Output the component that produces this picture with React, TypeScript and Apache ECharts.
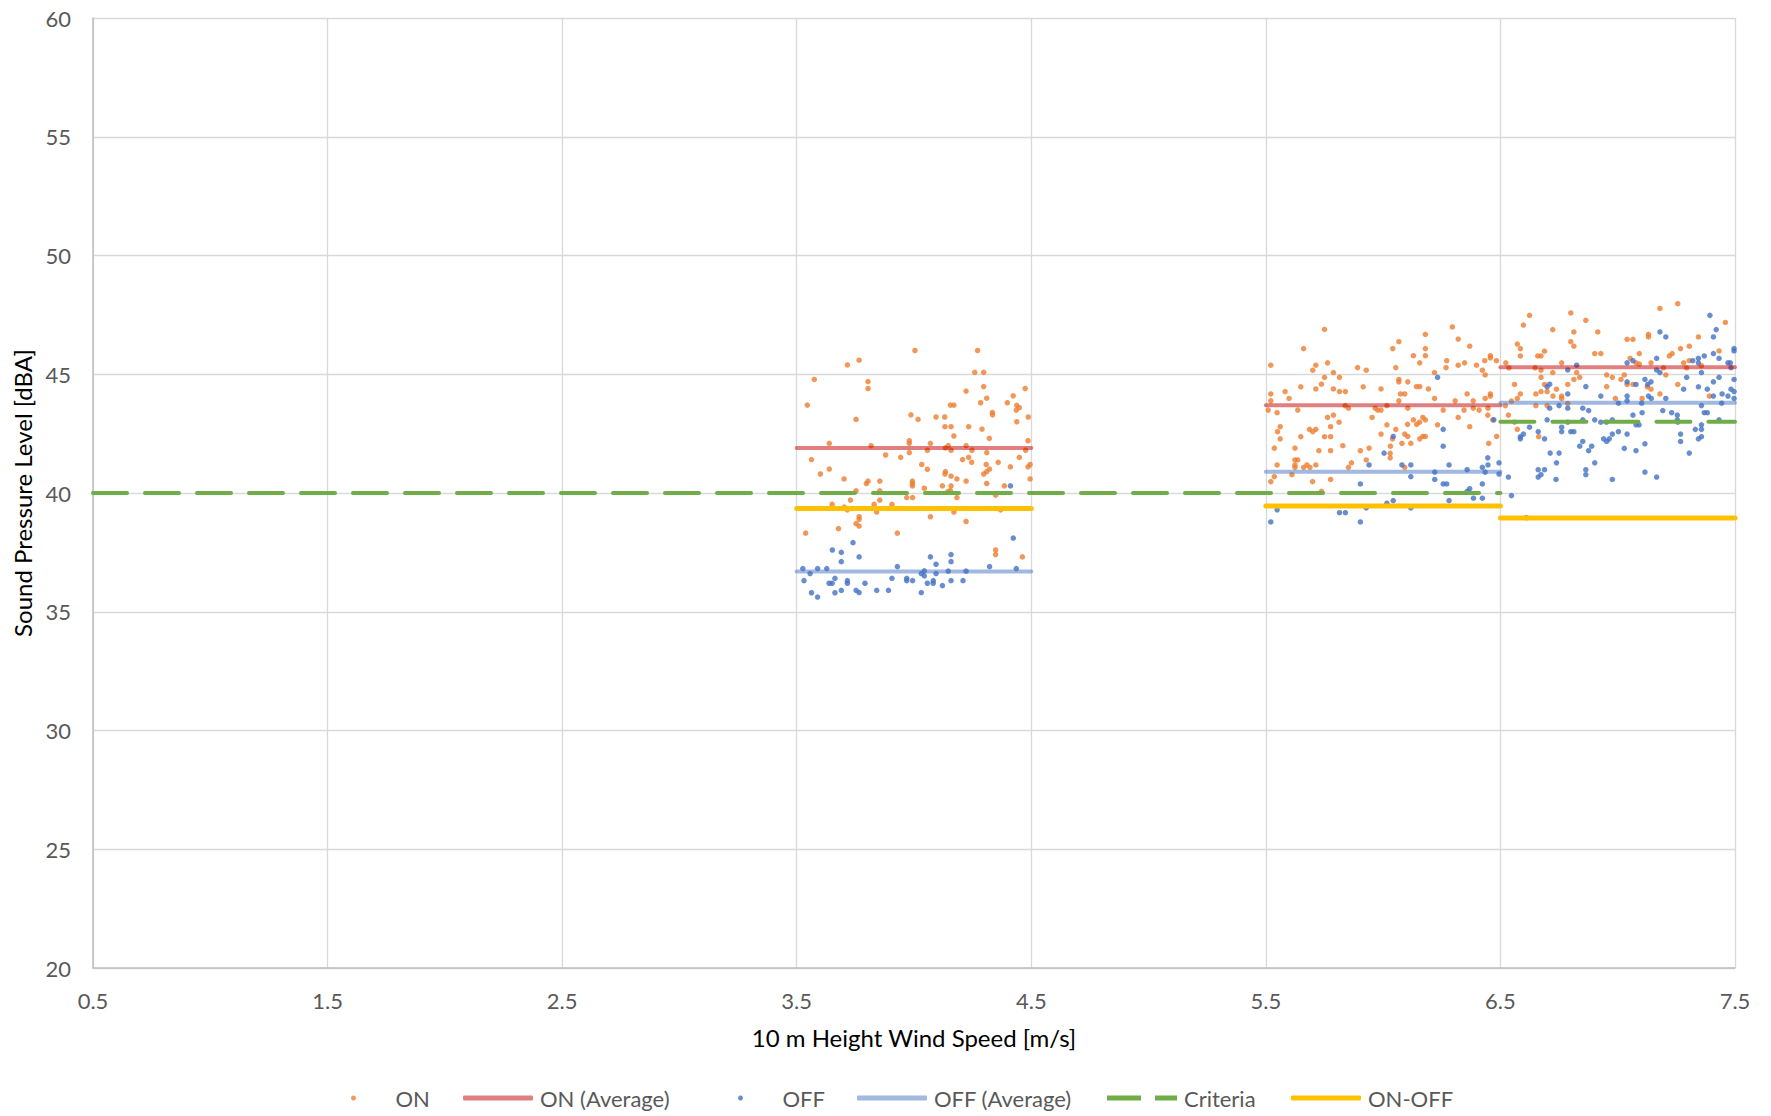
import React, { useEffect, useRef } from "react";
import * as echarts from "echarts";

// ---------- DATA ----------
const xTicks = [0.5, 1.5, 2.5, 3.5, 4.5, 5.5, 6.5, 7.5];
const yTicks = [20, 25, 30, 35, 40, 45, 50, 55, 60];

// ON measurements (turbine operating) [wind speed, dBA]
const onBin4: number[][] = [
  [4.004,46.0],[4.271,46.0],[3.766,45.59],[3.716,45.39],[4.259,45.08],[4.297,45.08],[3.575,44.78],[3.804,44.69],[3.804,44.40],[4.297,44.48],
  [4.474,44.40],[4.222,44.29],[4.423,44.09],[4.310,43.99],[3.545,43.70],[4.284,43.80],[4.398,43.80],[4.155,43.70],[4.170,43.70],[4.438,43.69],
  [4.449,43.59],[4.436,43.49],[4.334,43.39],[4.335,43.29],[3.987,43.29],[4.094,43.20],[4.131,43.20],[4.017,43.10],[3.753,43.10],[4.487,43.20],
  [4.438,43.00],[4.132,42.79],[4.158,42.79],[4.233,42.79],[4.290,42.69],[4.170,42.40],[4.321,42.30],[3.639,42.09],[3.980,42.20],[3.980,42.09],
  [4.070,42.09],[4.486,42.20],[3.817,41.99],[4.146,41.99],[4.134,41.90],[4.222,41.99],[3.980,41.70],[4.057,41.80],[4.158,41.80],[4.247,41.80],
  [4.476,41.80],[3.879,41.60],[3.943,41.50],[3.563,41.41],[4.207,41.41],[4.233,41.50],[4.310,41.70],[4.449,41.50],[4.246,41.29],[4.359,41.29],
  [4.033,41.20],[4.411,41.10],[4.495,41.20],[4.486,41.10],[3.601,40.80],[3.639,41.01],[4.057,41.00],[4.308,41.20],[4.322,41.01],[4.310,40.90],
  [4.297,40.80],[4.134,40.90],[4.132,40.80],[4.158,40.71],[3.702,40.59],[4.183,40.59],[4.222,40.50],[4.495,40.59],[3.804,40.50],[3.797,40.40],
  [3.854,40.50],[3.993,40.50],[3.993,40.40],[3.993,40.30],[4.044,40.20],[4.121,40.30],[4.158,40.30],[4.155,40.10],[4.145,40.06],[4.310,40.40],
  [4.385,40.30],[3.753,40.09],[3.854,40.09],[4.348,39.91],[3.969,39.81],[3.994,39.81],[4.183,39.81],[3.729,39.70],[3.854,39.70],[3.651,39.52],
  [3.830,39.52],[3.906,39.52],[3.703,39.41],[3.716,39.29],[3.841,39.20],[4.170,39.20],[4.369,39.29],[4.070,39.00],[3.766,39.00],[3.766,38.89],
  [4.222,38.80],[3.753,38.71],[3.766,38.61],[3.678,38.50],[3.538,38.31],[3.929,38.31],[4.348,37.60],[4.348,37.41],[4.462,37.31]
];
const onBin6: number[][] = [
  [5.750,46.89],[6.295,46.99],[5.661,46.08],[6.320,46.48],[6.180,46.68],[6.067,46.37],[6.369,46.18],[6.041,46.08],[6.180,46.08],[6.129,45.78],
  [6.180,45.78],[5.763,45.48],[6.156,45.48],[5.521,45.38],[5.713,45.38],[6.271,45.57],[6.054,45.28],[5.891,45.28],[5.928,45.17],[6.347,45.48],
  [6.320,45.38],[6.398,45.38],[6.433,45.57],[6.457,45.78],[6.457,45.69],[6.483,45.57],[5.700,45.17],[5.788,45.07],[6.219,45.07],[6.268,45.28],
  [6.423,45.17],[6.435,44.97],[5.750,44.87],[5.814,44.87],[5.737,44.58],[6.067,44.78],[6.067,44.68],[6.105,44.68],[5.649,44.47],[5.713,44.38],
  [5.788,44.38],[5.915,44.47],[5.991,44.38],[6.142,44.48],[6.156,44.48],[6.193,44.38],[5.521,44.17],[5.582,44.27],[5.814,44.27],[5.839,44.27],
  [6.074,44.17],[6.092,44.17],[6.358,44.17],[6.457,44.17],[6.457,44.08],[5.521,43.88],[5.599,43.98],[6.067,43.88],[6.219,43.98],[6.307,43.88],
  [6.384,43.88],[6.435,43.98],[5.838,43.68],[5.852,43.57],[5.966,43.57],[5.977,43.49],[5.991,43.49],[6.016,43.68],[6.105,43.57],[5.510,43.49],
  [5.636,43.49],[6.256,43.49],[6.345,43.49],[6.384,43.57],[6.409,43.49],[6.447,43.57],[5.548,43.38],[5.788,43.28],[5.953,43.18],[5.763,43.18],
  [6.320,43.18],[6.446,43.28],[6.129,43.08],[6.169,43.18],[6.180,43.08],[6.155,42.98],[6.143,42.89],[5.812,42.98],[6.104,42.89],[5.776,42.79],
  [5.561,42.79],[5.550,42.58],[6.016,42.87],[6.232,42.87],[6.369,42.79],[6.467,43.08],[5.686,42.68],[5.700,42.58],[5.713,42.68],[6.054,42.68],
  [5.561,42.28],[5.649,42.37],[5.750,42.37],[5.776,42.37],[5.991,42.48],[6.092,42.48],[6.105,42.38],[6.169,42.38],[6.180,42.38],[6.156,42.28],
  [6.040,42.28],[6.080,42.09],[6.118,42.09],[6.450,42.09],[6.484,42.38],[5.828,41.99],[5.536,41.89],[5.624,41.89],[5.940,41.89],[6.031,41.97],
  [5.726,41.78],[5.776,41.78],[5.903,41.78],[6.030,41.67],[6.030,41.48],[5.624,41.39],[5.636,41.39],[5.624,41.18],[5.624,41.08],[5.661,41.08],
  [5.675,41.18],[5.688,41.08],[5.713,41.18],[5.548,41.18],[5.865,41.27],[5.852,41.08],[5.928,41.39],[6.092,41.08],[5.536,40.69],[5.611,40.77],
  [5.699,40.48],[5.776,40.57],[5.521,40.48],[5.737,40.07]
];
const onBin7: number[][] = [
  [7.256,47.97],[7.180,47.77],[7.459,47.18],[6.624,47.48],[6.598,47.07],[6.800,47.58],[6.864,47.27],[6.723,46.88],[6.915,46.78],[6.813,46.78],
  [7.131,46.68],[7.131,46.57],[7.040,46.47],[7.065,46.47],[7.344,46.57],[6.572,46.27],[6.585,46.08],[6.585,45.77],[6.800,46.37],[6.813,46.18],
  [7.268,46.08],[7.305,46.18],[7.432,45.98],[7.232,45.87],[7.220,45.77],[6.659,45.77],[6.673,45.77],[6.688,45.97],[6.902,45.87],[6.928,45.87],
  [7.092,45.87],[7.053,45.67],[6.761,45.48],[7.078,45.48],[7.092,45.43],[7.142,45.48],[7.281,45.48],[7.305,45.57],[6.523,45.48],[6.536,45.27],
  [6.648,45.27],[7.195,45.27],[7.294,45.27],[7.357,45.36],[6.673,45.17],[6.723,45.07],[6.825,45.07],[6.838,44.87],[6.673,44.87],[6.813,44.78],
  [6.953,44.97],[6.977,44.87],[7.028,44.97],[7.014,44.78],[7.040,44.57],[7.065,44.57],[6.787,44.57],[6.560,44.57],[6.688,44.57],[6.739,44.37],
  [7.142,44.37],[7.126,44.47],[6.585,44.17],[6.651,44.17],[6.673,44.27],[6.699,44.27],[6.761,44.08],[6.761,43.98],[6.724,44.08],[6.953,44.48],
  [7.180,44.17],[7.391,44.08],[6.572,43.98],[6.547,43.87],[6.990,43.98],[7.104,43.98],[7.256,44.57],[7.205,44.97],[6.787,43.77],[6.699,43.68],
  [6.651,43.68],[6.521,43.68],[6.534,43.28],[6.560,42.98],[6.572,42.68],[6.663,42.37]
];

// OFF measurements (turbine stopped, background)
const offBin4: number[][] = [
  [4.411,40.30],[4.423,38.10],[3.740,37.91],[3.652,37.60],[3.690,37.50],[4.158,37.41],[3.766,37.31],[4.070,37.31],[3.690,37.11],[4.158,37.11],
  [4.094,37.00],[3.929,36.90],[4.322,36.90],[4.436,36.82],[3.526,36.82],[3.589,36.82],[3.628,36.82],[3.557,36.61],[4.044,36.72],[4.146,36.71],
  [4.222,36.71],[4.031,36.61],[4.044,36.51],[4.094,36.61],[3.531,36.31],[3.663,36.41],[3.638,36.20],[3.651,36.20],[3.716,36.31],[3.716,36.20],
  [3.791,36.20],[3.906,36.41],[3.969,36.41],[3.969,36.31],[3.994,36.31],[4.057,36.20],[4.082,36.31],[4.082,36.20],[4.158,36.31],[4.209,36.31],
  [3.563,35.80],[3.663,35.80],[3.690,35.90],[3.753,35.90],[3.841,35.90],[3.891,35.90],[4.121,36.10],[3.766,35.81],[3.589,35.62],[4.031,35.81]
];
const offBin6: number[][] = [
  [6.232,44.87],[6.472,43.08],[6.256,42.68],[6.043,42.38],[6.256,41.97],[6.004,41.68],[5.940,41.18],[6.080,41.18],[6.118,41.18],[6.281,41.18],
  [6.423,41.08],[6.447,41.18],[6.446,41.48],[6.494,41.27],[6.358,40.98],[6.118,40.69],[6.220,40.88],[6.435,40.88],[6.494,40.80],[6.220,40.57],
  [5.903,40.38],[6.256,40.38],[6.271,40.38],[6.423,40.38],[6.369,40.18],[6.358,40.07],[6.385,39.78],[6.423,39.78],[6.281,39.68],[6.043,39.68],
  [6.016,39.57],[5.928,39.37],[6.118,39.37],[5.548,39.29],[5.814,39.17],[5.839,39.17],[5.521,38.78],[5.903,38.78]
];
const offBin7: number[][] = [
  [7.393,47.48],[7.420,46.88],[7.408,46.57],[7.180,46.78],[7.205,46.57],[7.496,46.08],[7.496,45.98],[7.432,45.67],[7.408,45.87],[7.369,45.77],
  [7.344,45.67],[7.320,45.57],[7.344,45.48],[7.166,45.67],[7.065,45.57],[7.040,45.48],[6.825,45.38],[7.480,45.48],[7.470,45.48],[7.483,45.28],
  [7.357,45.07],[6.787,45.18],[7.166,45.18],[7.180,45.07],[7.040,44.68],[7.078,44.57],[7.116,44.78],[7.142,44.68],[7.128,44.57],[7.496,44.78],
  [7.432,44.87],[7.408,44.68],[7.294,44.87],[7.281,44.37],[7.344,44.47],[7.382,44.37],[7.496,44.27],[7.483,44.37],[7.445,44.17],[7.470,44.08],
  [7.496,43.98],[7.408,44.08],[7.131,44.08],[7.143,43.98],[7.205,43.98],[7.040,44.08],[7.040,43.88],[6.928,44.08],[6.864,44.48],[6.710,44.58],
  [6.699,44.47],[7.003,43.78],[7.102,43.78],[7.443,43.78],[7.357,43.68],[6.787,44.17],[6.787,43.57],[6.750,43.68],[6.710,43.57],[6.851,43.57],
  [6.876,43.47],[7.192,43.47],[7.230,43.38],[7.369,43.38],[7.382,43.38],[7.254,43.28],[7.104,43.38],[7.065,43.28],[7.254,43.08],[7.256,42.98],
  [7.432,43.08],[6.851,43.08],[6.902,43.08],[6.928,42.98],[6.952,42.98],[6.977,43.08],[6.787,42.98],[6.699,43.08],[7.078,42.87],[7.091,42.87],
  [7.357,42.87],[7.357,42.68],[7.331,42.68],[7.357,42.37],[7.344,42.28],[7.003,42.58],[6.800,42.58],[6.813,42.58],[6.761,42.77],[6.761,42.58],
  [6.661,42.58],[6.585,42.37],[6.585,42.28],[6.598,42.48],[6.624,42.77],[6.688,42.28],[6.851,42.17],[6.940,42.28],[6.953,42.17],[6.964,42.28],
  [6.977,42.48],[7.040,42.48],[7.268,42.48],[7.268,42.17],[6.838,41.97],[6.889,41.97],[6.876,41.78],[7.028,41.88],[7.078,41.78],[7.116,42.07],
  [7.305,41.68],[6.712,41.68],[6.750,41.68],[6.739,41.27],[6.902,41.27],[6.864,40.98],[6.864,40.77],[6.661,40.98],[6.688,40.98],[6.661,40.67],
  [6.673,40.77],[6.534,40.67],[6.737,40.57],[6.977,40.57],[7.116,40.88],[7.166,40.67],[6.547,39.89],[6.611,38.96]
];

// Bin-level lines: [from, to, level]
const onAverage = [[3.5, 4.5, 41.9], [5.5, 6.5, 43.7], [6.5, 7.5, 45.3]];
const offAverage = [[3.5, 4.5, 36.7], [5.5, 6.5, 40.9], [6.5, 7.5, 43.8]];
const criteria = [[0.5, 6.5, 40], [6.5, 7.5, 43]];
const onMinusOff = [[3.5, 4.5, 39.35], [5.5, 6.5, 39.45], [6.5, 7.5, 38.95]];

const legendNames = ["ON", "ON (Average)", "OFF", "OFF (Average)", "Criteria", "ON-OFF"];
const legendIcons = ["circle", "roundRect", "circle", "roundRect", "path://M0,0h34v5h-34z M48,0h22v5h-22z", "roundRect"];
const legendLeft = [351, 463, 738, 857, 1107, 1291];

const FONT = "Lato, 'Open Sans', sans-serif";

function segSeries(name: string, segs: number[][], lineStyle: any) {
  return segs.map((s) => ({
    name,
    type: "line",
    symbol: "none",
    data: [[s[0], s[2]], [s[1], s[2]]],
    lineStyle,
    itemStyle: { color: lineStyle.color },
    silent: true,
  }));
}

export default function App() {
  const ref = useRef<HTMLDivElement>(null);
  useEffect(() => {
    if (!ref.current) return;
    const chart = echarts.init(ref.current, undefined, { renderer: "svg" });
    const onAvgStyle = { color: "rgba(192,0,0,0.5)", width: 4, cap: "round" };
    const offAvgStyle = { color: "rgba(68,114,196,0.5)", width: 4, cap: "round" };
    const critStyle = { color: "#70AD47", width: 4, type: [34, 18], cap: "round" };
    const diffStyle = { color: "#FFC000", width: 5, cap: "round" };
    const legends = legendNames.map((n, i) => ({
      left: legendLeft[i],
      top: 1087,
      padding: 0,
      itemWidth: 70,
      itemHeight: 5,
      textStyle: { color: "#595959", fontSize: 22, fontFamily: FONT, padding: [0, 0, 0, 2] },
      data: [{ name: n, icon: legendIcons[i] }],
    }));
    const option: any = {
      animation: false,
      backgroundColor: "#ffffff",
      textStyle: { fontFamily: FONT },
      grid: { left: 93, right: 36, top: 18, bottom: 148, containLabel: false },
      xAxis: {
        type: "value",
        min: xTicks[0],
        max: xTicks[xTicks.length - 1],
        interval: 1,
        name: "10 m Height Wind Speed [m/s]",
        nameLocation: "middle",
        nameGap: 57,
        nameTextStyle: { color: "#000000", fontSize: 24, fontFamily: FONT },
        axisLine: { show: true, lineStyle: { color: "#BFBFBF", width: 1.5 } },
        axisTick: { show: false },
        splitLine: { show: true, lineStyle: { color: "#D9D9D9", width: 1.3 } },
        axisLabel: {
          color: "#595959",
          fontSize: 22,
          fontFamily: FONT,
          margin: 21,
          formatter: (v: number) => v.toFixed(1),
        },
      },
      yAxis: {
        type: "value",
        min: yTicks[0],
        max: yTicks[yTicks.length - 1],
        interval: 5,
        name: "Sound Pressure Level [dBA]",
        nameLocation: "middle",
        nameGap: 58,
        nameTextStyle: { color: "#000000", fontSize: 24, fontFamily: FONT },
        axisLine: { show: true, lineStyle: { color: "#BFBFBF", width: 1.5 } },
        axisTick: { show: false },
        splitLine: { show: true, lineStyle: { color: "#D9D9D9", width: 1.3 } },
        axisLabel: { color: "#595959", fontSize: 22, fontFamily: FONT, margin: 22 },
      },
      legend: legends,
      series: [
        {
          name: "ON",
          type: "scatter",
          symbol: "circle",
          symbolSize: 5.5,
          itemStyle: { color: "#ED7D31" },
          data: [...onBin4, ...onBin6, ...onBin7],
        },
        ...segSeries("ON (Average)", onAverage, onAvgStyle),
        {
          name: "OFF",
          type: "scatter",
          symbol: "circle",
          symbolSize: 5.5,
          itemStyle: { color: "#4472C4" },
          data: [...offBin4, ...offBin6, ...offBin7],
        },
        ...segSeries("OFF (Average)", offAverage, offAvgStyle),
        ...segSeries("Criteria", criteria, critStyle),
        ...segSeries("ON-OFF", onMinusOff, diffStyle),
      ],
    };
    chart.setOption(option);
    return () => chart.dispose();
  }, []);
  return (
    <div
      ref={ref}
      style={{ position: "fixed", left: 0, top: 0, width: 1771, height: 1116, background: "#fff" }}
    />
  );
}
